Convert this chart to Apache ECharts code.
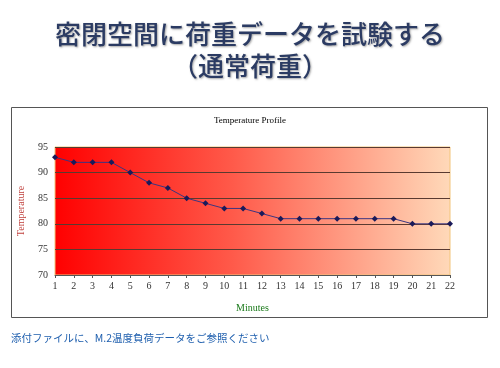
<!DOCTYPE html>
<html><head><meta charset="utf-8">
<script src="https://cdn.jsdelivr.net/npm/echarts@6/dist/echarts.min.js"></script>
<style>html,body{margin:0;padding:0;background:#fff;}#c{width:500px;height:368px;}</style>
</head><body><div id="c"></div>
<script>
const titleLine1 = '密閉空間に荷重データを試験する';
const titleLine2 = '（通常荷重）';
const chartTitle = 'Temperature Profile';
const footerText = '添付ファイルに、M.2温度負荷データをご参照ください';
const minutes = ['1','2','3','4','5','6','7','8','9','10','11','12','13','14','15','16','17','18','19','20','21','22'];
const temperature = [93,92,92,92,90,88,87,85,84,83,83,82,81,81,81,81,81,81,81,80,80,80];

const chart = echarts.init(document.getElementById('c'), null, {renderer:'canvas'});
const serif = '"Liberation Serif","DejaVu Serif",serif';
chart.setOption({
  animation:false,
  backgroundColor:'#fff',
  title:[
    {text:titleLine1, left:'center', top:16, textStyle:{fontFamily:'"Noto Sans CJK JP"', fontSize:26, fontWeight:500, color:'#2b3b63', textShadowColor:'rgba(0,0,0,0.35)', textShadowBlur:2, textShadowOffsetX:1, textShadowOffsetY:1}},
    {text:titleLine2, left:'center', top:48, textStyle:{fontFamily:'"Noto Sans CJK JP"', fontSize:26, fontWeight:500, color:'#2b3b63', textShadowColor:'rgba(0,0,0,0.35)', textShadowBlur:2, textShadowOffsetX:1, textShadowOffsetY:1}},
    {text:chartTitle, left:'center', top:111, textStyle:{fontFamily:serif, fontSize:9, fontWeight:'normal', color:'#000'}},
    {text:footerText, left:6, top:328, textStyle:{fontFamily:'"Noto Sans CJK JP"', fontSize:10.5, fontWeight:'normal', color:'#1f5fae'}}
  ],
  graphic:[
    {type:'rect', shape:{x:11.5, y:107.5, width:476, height:210}, style:{fill:'none', stroke:'#555', lineWidth:1}, z:-1}
  ],
  grid:{left:55, right:50, top:147, bottom:93, show:true,
    backgroundColor:new echarts.graphic.LinearGradient(0,0,1,0,[{offset:0,color:'#ff0000'},{offset:0.45,color:'#ff5a4a'},{offset:1,color:'#ffd9b9'}]),
    borderColor:'#f2c47a', borderWidth:1},
  xAxis:{type:'category', data:minutes, boundaryGap:false,
    name:'Minutes', nameLocation:'middle', nameGap:28,
    nameTextStyle:{fontFamily:serif, fontSize:10, color:'#1a7a1a'},
    axisLine:{lineStyle:{color:'#555', width:1}},
    axisTick:{show:true, length:3, lineStyle:{color:'#555'}},
    axisLabel:{fontFamily:serif, fontSize:10, color:'#333', margin:6},
    splitLine:{show:false}},
  yAxis:{type:'value', min:70, max:95, interval:5,
    name:'Temperature', nameLocation:'middle', nameGap:29,
    nameTextStyle:{fontFamily:serif, fontSize:10, color:'#c0403c'},
    axisLine:{show:false}, axisTick:{show:false},
    axisLabel:{fontFamily:serif, fontSize:10, color:'#333', margin:7},
    splitLine:{show:true, lineStyle:{color:'#5a3a30', width:1}}},
  series:[{type:'line', data:temperature, symbol:'diamond', symbolSize:6,
    itemStyle:{color:'#1a1a5a'}, lineStyle:{color:'#3d3580', width:1}}]
});
</script></body></html>
